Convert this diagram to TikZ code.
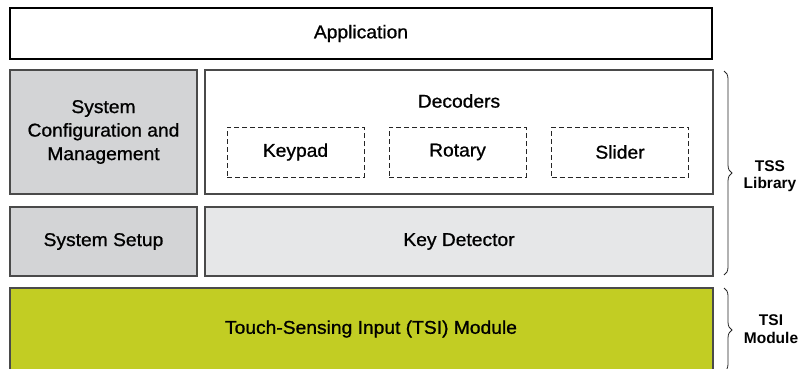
\documentclass[tikz,border=0pt]{standalone}
\usepackage{fontspec}
\setmainfont{Liberation Sans}
\newfontfamily\medfont[FakeBold=0.9,FakeStretch=1.04]{Liberation Sans}
\usetikzlibrary{decorations.pathreplacing}
\definecolor{boxgray}{HTML}{D3D4D6}
\definecolor{lightgray2}{HTML}{E6E7E8}
\definecolor{tsigreen}{HTML}{C2CD23}
\definecolor{edgegray}{HTML}{4A4A4A}
\begin{document}
\begin{tikzpicture}[x=1pt,y=-1pt,
  txt/.style={font=\medfont\fontsize{18.5}{23.5}\selectfont},
  blk/.style={draw=edgegray,line width=1.5pt,rectangle,inner sep=0pt,align=center,txt},
  dbox/.style={draw=black!85,dash pattern=on 5pt off 3pt,line width=0.9pt,rectangle,inner sep=0pt,minimum width=137pt,minimum height=50pt,txt},
  lbl/.style={align=center,font=\bfseries\fontsize{15.5}{17.5}\selectfont},
  brc/.style={decorate,decoration={brace,amplitude=8pt},draw=black!85,line width=0.8pt}]
\useasboundingbox (0,0) rectangle (800,368);
\begin{scope}
\clip (0,0) rectangle (800,368);
\node[blk,draw=black,line width=2.6pt,fill=white,minimum width=702pt,minimum height=51pt] (app) at (361,33.5) {Application};
\node[blk,fill=boxgray,minimum width=187pt,minimum height=124pt] (scm) at (103.5,132) {System\\Configuration and\\Management};
\node[blk,fill=white,minimum width=508pt,minimum height=124pt] (dec) at (459,132) {};
\node[txt] (dect) at (459,101) {Decoders};
\node[dbox] (kp) at (295.5,152) {Keypad};
\node[dbox] (rot) at (457.5,152) {Rotary};
\node[dbox] (sld) at (620,152) {Slider};
\node[blk,fill=boxgray,minimum width=187pt,minimum height=69pt] (ss) at (103.5,241.5) {System Setup};
\node[blk,fill=lightgray2,minimum width=508pt,minimum height=69pt] (kd) at (459,241.5) {Key Detector};
\node[blk,fill=tsigreen,minimum width=703pt,minimum height=90pt,anchor=north] (tsi) at (361.5,287) {};
\node[txt] (tsit) at (371,329) {Touch-Sensing Input (TSI) Module};
\coordinate (b1t) at (724,71);
\coordinate (b1b) at (724,275);
\coordinate (b2t) at (724,288);
\coordinate (b2b) at (724,372);
\draw[brc] (b1t) -- (b1b);
\draw[brc] (b2t) -- (b2b);
\node[lbl] (tss) at (770,176) {TSS\\Library};
\node[lbl] (tsim) at (771,329) {TSI\\Module};
\end{scope}
\end{tikzpicture}
\end{document}
